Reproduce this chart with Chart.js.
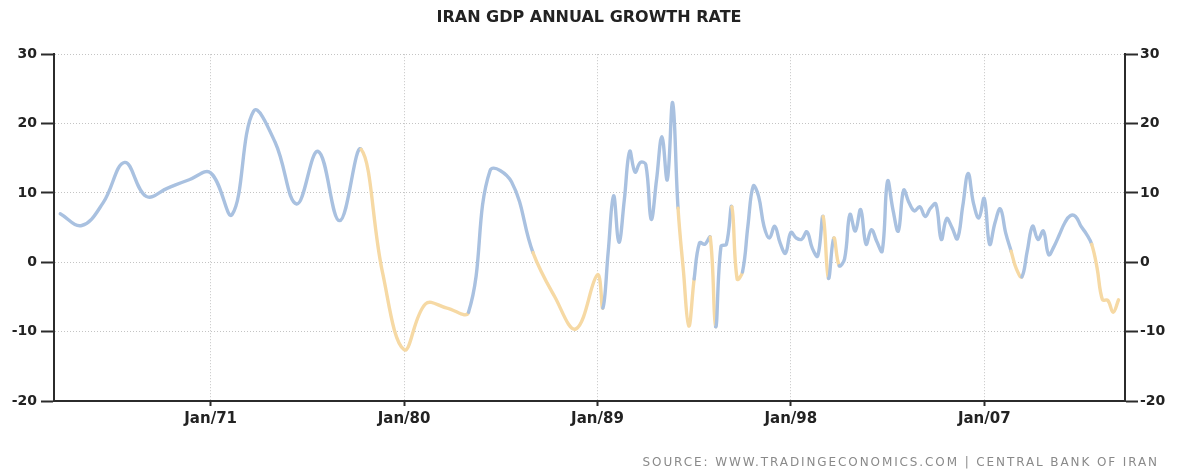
<!DOCTYPE html>
<html>
<head>
<meta charset="utf-8">
<script src="https://cdn.jsdelivr.net/npm/chart.js@4"></script>
<style>
  html, body { margin: 0; padding: 0; background: #ffffff; }
  #wrap { width: 1178px; height: 470px; position: relative; }
</style>
</head>
<body>
<div id="wrap"><canvas id="c" width="1178" height="470"></canvas></div>
<script>
// ---- Data ----
const TITLE = 'IRAN GDP ANNUAL GROWTH RATE';
const SOURCE = 'SOURCE: WWW.TRADINGECONOMICS.COM | CENTRAL BANK OF IRAN';

// Annual growth rate, Jan 1964 .. Jan 1988
const annualStartYear = 1964;
const annualValues = [7.0, 5.3, 8.6, 14.4, 9.5, 10.7, 11.9, 12.9, 6.9, 21.8,
  17.3, 8.4, 16.0, 6.0, 16.3, -1.5, -12.6, -6.0, -6.6, -7.2,
  13.2, 11.6, 1.4, -4.9, -9.6];

// Quarterly growth rate, Q1 1989 .. Q2 2013
const quarterlyStartYear = 1989;
const quarterlyValues = [
  -1.8, -6.6, 1.5, 9.6, 2.9, 9.0, 16.0, 13.0, 14.4, 14.1,
  6.2, 11.9, 18.1, 11.9, 23.0, 7.8, -1.2, -9.2, -2.4, 2.8,
  2.6, 3.6, -9.3, 2.3, 2.6, 8.0, -2.4, -1.4, 5.2, 11.0,
  9.5, 5.2, 3.5, 5.2, 2.8, 1.3, 4.3, 3.5, 3.3, 4.4,
  2.0, 0.9, 6.6, -2.3, 3.5, -0.5, 0.5, 6.9, 4.5, 7.6,
  2.6, 4.7, 3.0, 1.6, 11.7, 7.6, 4.5, 10.4, 8.6, 7.4,
  8.0, 6.6, 7.8, 8.4, 3.3, 6.3, 5.0, 3.4, 8.1, 12.8,
  8.5, 6.4, 9.2, 2.6, 5.7, 7.7, 4.2, 1.6, -1.0, -2.1,
  1.6, 5.2, 3.3, 4.5, 1.1, 2.3, 4.0, 5.7, 6.7, 6.6,
  5.2, 4.1, 2.6, -0.8, -5.4, -5.5, -7.2, -5.4];

const xTickYears = [1971, 1980, 1989, 1998, 2007];
const yTicks = [-20, -10, 0, 10, 20, 30];

// ---- Build points ----
const points = [];
annualValues.forEach((v, i) => points.push({ x: annualStartYear + i, y: v }));
quarterlyValues.forEach((v, i) => points.push({ x: quarterlyStartYear + i / 4, y: v }));

const BLUE = '#a9c1e0';
const ORANGE = '#f6d9a4';
const AXIS = '#2b2b2b';
const GRID = '#c4c4c4';
const TEXT = '#222222';

const sourcePlugin = {
  id: 'sourceText',
  afterDraw(chart) {
    const ctx = chart.ctx;
    ctx.save();
    ctx.font = '12px "DejaVu Sans"';
    ctx.fillStyle = '#8a8a8a';
    ctx.textAlign = 'right';
    ctx.textBaseline = 'middle';
    try { ctx.letterSpacing = '1.9px'; } catch (e) {}
    ctx.fillText(SOURCE, 1159, 463);
    ctx.restore();
  }
};

new Chart(document.getElementById('c'), {
  type: 'line',
  data: {
    datasets: [{
      data: points,
      borderColor: BLUE,
      borderWidth: 3.4,
      pointRadius: 0,
      pointHoverRadius: 0,
      tension: 0.4,
      fill: false,
      borderCapStyle: 'round',
      borderJoinStyle: 'round',
      segment: {
        borderColor: ctx => ctx.p1.parsed.y < 0 ? ORANGE : BLUE
      }
    }]
  },
  options: {
    responsive: false,
    animation: false,
    devicePixelRatio: 1,
    layout: { padding: 0 },
    plugins: {
      legend: { display: false },
      tooltip: { enabled: false },
      title: {
        display: true,
        text: TITLE,
        color: TEXT,
        font: { family: 'DejaVu Sans', size: 16, weight: 'bold', lineHeight: 1.2 },
        padding: { top: 8, bottom: 27 }
      }
    },
    scales: {
      x: {
        type: 'linear',
        min: 1963.71,
        max: 2013.55,
        afterBuildTicks: s => { s.ticks = xTickYears.map(v => ({ value: v })); },
        afterFit: s => { s.height = 69; },
        ticks: {
          color: TEXT,
          font: { family: 'DejaVu Sans', size: 15, weight: 'bold' },
          padding: 4,
          maxRotation: 0,
          autoSkip: false,
          callback: v => 'Jan/' + String(v).slice(2)
        },
        grid: {
          color: GRID,
          lineWidth: 1,
          tickLength: 5,
          tickColor: AXIS,
          tickWidth: 2,
          drawOnChartArea: true
        },
        border: { display: true, color: AXIS, width: 2, dash: [1, 2] }
      },
      y: {
        position: 'left',
        min: -20,
        max: 30,
        afterBuildTicks: s => { s.ticks = yTicks.map(v => ({ value: v })); },
        afterFit: s => { s.width = 54; },
        ticks: {
          color: TEXT,
          font: { family: 'DejaVu Sans', size: 14, weight: 'bold' },
          padding: 4
        },
        grid: {
          color: GRID,
          lineWidth: 1,
          tickLength: 13,
          tickColor: AXIS,
          tickWidth: 2,
          drawOnChartArea: true
        },
        border: { display: true, color: AXIS, width: 2, dash: [1, 2] }
      },
      y2: {
        position: 'right',
        min: -20,
        max: 30,
        afterBuildTicks: s => { s.ticks = yTicks.map(v => ({ value: v })); },
        afterFit: s => { s.width = 53; },
        ticks: {
          color: TEXT,
          font: { family: 'DejaVu Sans', size: 14, weight: 'bold' },
          padding: 2
        },
        grid: {
          color: GRID,
          tickLength: 13,
          tickColor: AXIS,
          tickWidth: 2,
          drawOnChartArea: false
        },
        border: { display: true, color: AXIS, width: 2 }
      }
    }
  },
  plugins: [sourcePlugin]
});
</script>
</body>
</html>
